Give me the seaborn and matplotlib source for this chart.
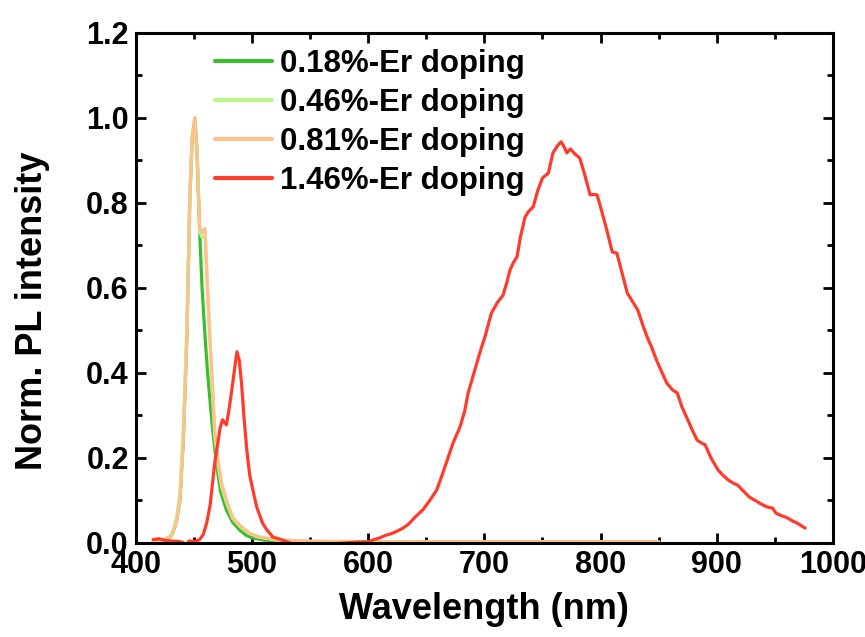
import matplotlib
matplotlib.use("Agg")
import matplotlib.pyplot as plt
from matplotlib.ticker import MultipleLocator
import seaborn as sns
import pandas as pd

labels = ["0.18%-Er doping", "0.46%-Er doping", "0.81%-Er doping", "1.46%-Er doping"]
colors = ["#3cbd2f", "#b9f68c", "#ffc08c", "#ff3b2b"]

wl_018 = [415, 420, 425, 430, 432, 435, 438, 441, 444, 446.5, 448.5, 450.8, 452.5, 455, 457, 459.5,
          461.5, 463.7, 466, 469.7, 473, 478, 483, 489.5, 495, 500, 510, 520, 540, 560, 600, 650,
          700, 750, 800, 850]
pl_018 = [0.005, 0.006, 0.008, 0.015, 0.025, 0.05, 0.10, 0.25, 0.49, 0.81, 0.95, 1.0, 0.93, 0.73,
          0.60, 0.49, 0.41, 0.34, 0.27, 0.18, 0.12, 0.078, 0.05, 0.03, 0.018, 0.012, 0.007, 0.004,
          0.002, 0.001, 0.0, 0.0, 0.0, 0.0, 0.0, 0.0]

wl_046 = [415, 420, 425, 430, 432, 435, 438, 441, 444, 446.5, 448.5, 450.8, 453, 455, 457, 459.5,
          461, 463.7, 466, 468, 471, 474, 478, 483.5, 490, 498, 505, 520, 550, 600, 700, 800, 850]
pl_046 = [0.005, 0.006, 0.009, 0.017, 0.03, 0.06, 0.12, 0.28, 0.52, 0.83, 0.96, 1.0, 0.9, 0.73,
          0.72, 0.72, 0.63, 0.47, 0.35, 0.25, 0.18, 0.13, 0.095, 0.057, 0.038, 0.022, 0.014, 0.007,
          0.004, 0.003, 0.003, 0.003, 0.003]

wl_081 = [415, 420, 425, 430, 432, 435, 438, 441, 444, 446.5, 448.5, 450.8, 453, 455, 457, 459.5,
          461, 463.7, 466, 468, 471, 474, 478, 483.5, 490, 498, 505, 520, 550, 600, 700, 800, 850]
pl_081 = [0.005, 0.006, 0.008, 0.015, 0.025, 0.05, 0.10, 0.25, 0.49, 0.81, 0.95, 1.0, 0.9, 0.74,
          0.73, 0.74, 0.65, 0.49, 0.37, 0.26, 0.19, 0.14, 0.10, 0.06, 0.04, 0.023, 0.015, 0.008,
          0.004, 0.003, 0.003, 0.003, 0.003]

wl_146 = [415, 420, 425, 430, 435, 440, 443, 446, 450, 455, 458, 461, 464, 466, 468, 470.6, 472.5,
          474.6, 476, 478, 480, 482.6, 485, 487, 489, 491, 493, 495.5, 498, 500.7, 504, 509, 513,
          518, 525, 530, 535, 540, 550, 560, 570, 580, 590, 600, 605, 610, 615, 620, 625, 630, 635,
          640, 647, 653, 659, 663, 668, 673, 679, 683, 686, 691, 696, 701, 706, 711, 716, 719, 722,
          725, 728, 731, 735, 738, 742, 746, 750, 755, 759, 763, 766, 768, 771, 774, 778, 782, 786,
          791, 794, 797, 800, 805, 810, 814, 818, 823, 827, 832, 836, 840, 844, 848, 853, 857, 862,
          866, 870, 875, 879, 883, 887, 890, 895, 901, 905, 910, 914, 918, 923, 928, 933, 938, 943,
          948, 951, 954, 960, 965, 969, 973, 976]
pl_146 = [0.008, 0.01, 0.006, 0.005, 0.004, 0.002, -0.005, 0.005, 0.003, 0.008, 0.02, 0.047, 0.09,
          0.14, 0.19, 0.235, 0.27, 0.29, 0.285, 0.278, 0.31, 0.36, 0.41, 0.45, 0.43, 0.376, 0.30,
          0.219, 0.16, 0.125, 0.085, 0.047, 0.03, 0.014, 0.008, 0.003, -0.003, -0.004, -0.003,
          -0.005, -0.002, 0.0, 0.002, 0.003, 0.008, 0.012, 0.018, 0.022, 0.028, 0.035, 0.045, 0.06,
          0.078, 0.10, 0.125, 0.155, 0.195, 0.235, 0.273, 0.31, 0.353, 0.40, 0.447, 0.49, 0.541,
          0.565, 0.583, 0.61, 0.642, 0.66, 0.673, 0.72, 0.767, 0.78, 0.791, 0.83, 0.859, 0.87,
          0.918, 0.935, 0.944, 0.935, 0.918, 0.927, 0.915, 0.906, 0.87, 0.819, 0.82, 0.819, 0.79,
          0.74, 0.685, 0.682, 0.64, 0.588, 0.57, 0.548, 0.515, 0.485, 0.46, 0.431, 0.40, 0.376,
          0.36, 0.353, 0.32, 0.29, 0.265, 0.242, 0.235, 0.231, 0.20, 0.172, 0.16, 0.148, 0.141,
          0.136, 0.122, 0.108, 0.10, 0.092, 0.085, 0.082, 0.07, 0.066, 0.06, 0.052, 0.047, 0.04,
          0.035]

x_ticks = [400, 500, 600, 700, 800, 900, 1000]
y_ticks = [0.0, 0.2, 0.4, 0.6, 0.8, 1.0, 1.2]

sns.set_style("ticks")
plt.rcParams["font.family"] = ["Liberation Sans", "DejaVu Sans"]
plt.rcParams["font.weight"] = "bold"
plt.rcParams["text.color"] = "black"
plt.rcParams["axes.labelcolor"] = "black"
plt.rcParams["xtick.color"] = "black"
plt.rcParams["ytick.color"] = "black"
plt.rcParams["axes.edgecolor"] = "black"

fig = plt.figure(figsize=(8.65, 6.37), dpi=100)
ax = fig.add_axes([0.157, 0.1476, 0.806, 0.8006])

series = [(wl_018, pl_018), (wl_046, pl_046), (wl_081, pl_081), (wl_146, pl_146)]
for (wl, pl), lab, col in zip(series, labels, colors):
    df = pd.DataFrame({"wl": wl, "pl": pl})
    sns.lineplot(data=df, x="wl", y="pl", ax=ax, color=col, lw=2.3, label=lab,
                 estimator=None, sort=False)

ax.set_xlim(400, 1000)
ax.set_ylim(0, 1.2)
ax.set_xticks(x_ticks)
ax.set_yticks(y_ticks)
ax.set_xticklabels([str(t) for t in x_ticks])
ax.set_yticklabels([f"{t:.1f}" for t in y_ticks])
ax.xaxis.set_minor_locator(MultipleLocator(50))
ax.yaxis.set_minor_locator(MultipleLocator(0.1))
ax.tick_params(which="both", direction="in", top=True, right=True, width=2, colors="black")
ax.tick_params(which="major", length=7, labelsize=22, pad=5)
ax.tick_params(which="minor", length=4)
for t in ax.get_xticklabels() + ax.get_yticklabels():
    t.set_fontweight("bold")
    t.set_color("black")
for sp in ax.spines.values():
    sp.set_linewidth(2.2)
    sp.set_color("black")

ax.set_xlabel("Wavelength (nm)", fontsize=26, fontweight="bold", color="black", labelpad=9)
ax.set_ylabel("Norm. PL intensity", fontsize=26, fontweight="bold", color="black")
ax.yaxis.set_label_coords(-0.123, 0.455)

leg = ax.legend(loc="upper left", bbox_to_anchor=(0.113, 0.968), frameon=False,
                fontsize=22.5, handlelength=1.85, handletextpad=0.25, labelspacing=0.28,
                borderpad=0, borderaxespad=0)
for line in leg.get_lines():
    line.set_linewidth(3)
for t in leg.get_texts():
    t.set_fontweight("bold")
    t.set_color("black")

fig.savefig("out.png", dpi=100)
